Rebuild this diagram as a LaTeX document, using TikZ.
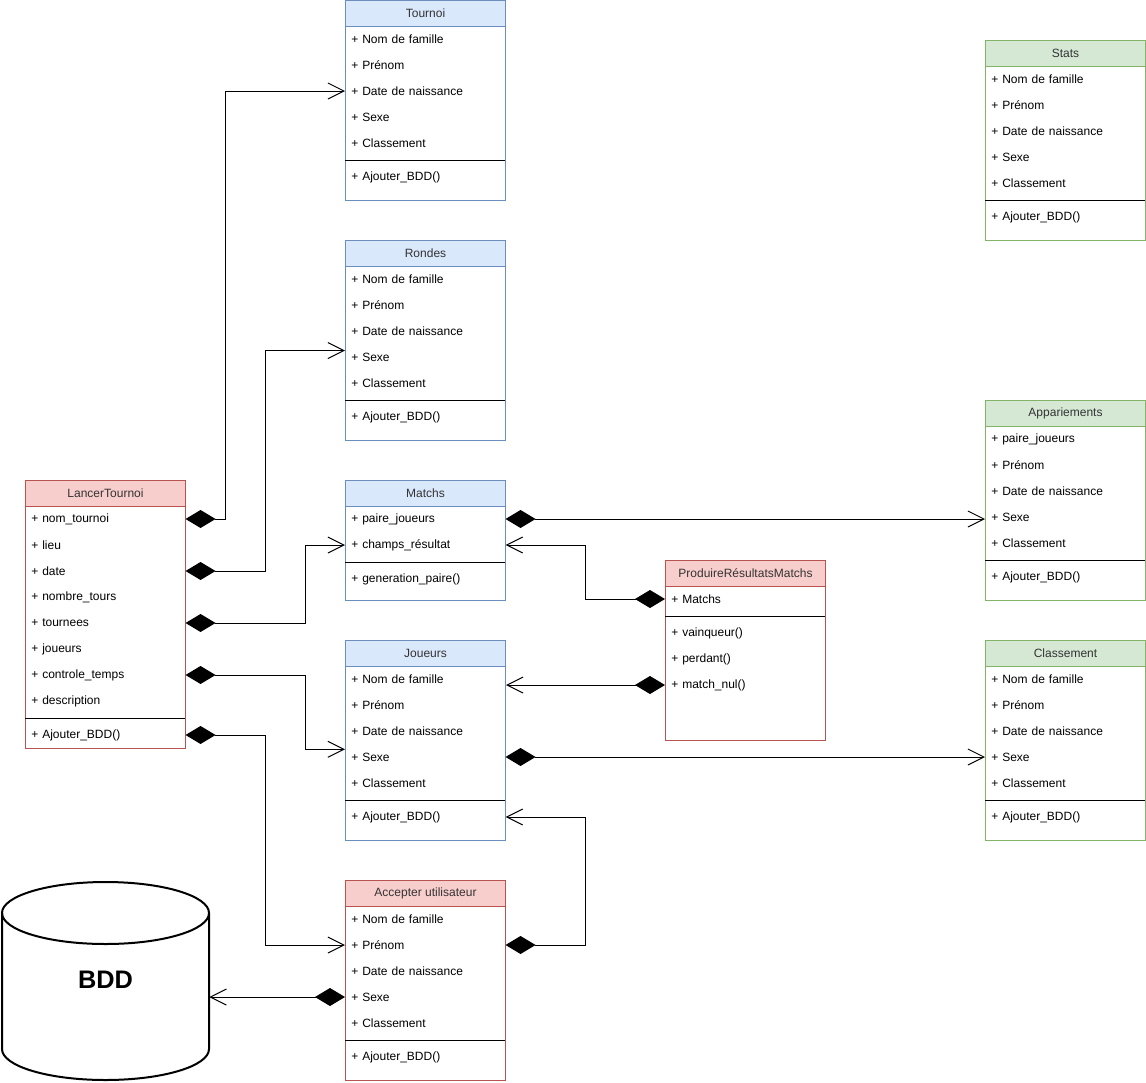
\documentclass[tikz,border=0pt]{standalone}
\usepackage{fontspec}
\setmainfont{Liberation Sans}
\usetikzlibrary{arrows.meta}

\definecolor{bluefill}{HTML}{DAE8FC}
\definecolor{bluedraw}{HTML}{6C8EBF}
\definecolor{redfill}{HTML}{F8CECC}
\definecolor{reddraw}{HTML}{B85450}
\definecolor{greenfill}{HTML}{D5E8D4}
\definecolor{greendraw}{HTML}{82B366}
\definecolor{headtext}{HTML}{333333}

\tikzset{
  itemfont/.style={font=\fontsize{9}{11}\selectfont},
  clsbody/.style={draw=#1draw, fill=white, line width=0.75pt,
    minimum width=120pt, inner sep=0pt, anchor=north west},
  clshead/.style={draw=#1draw, fill=#1fill, line width=0.75pt,
    minimum width=120pt, minimum height=19.5pt, inner sep=0pt,
    anchor=north west, text=headtext, itemfont},
  clsrow/.style={anchor=west, text width=111pt, inner xsep=4.5pt,
    inner ysep=0pt, minimum height=19.5pt, align=left, itemfont},
  sepline/.style={line width=0.75pt, black},
  assoc/.style={line width=0.75pt,
    {Diamond[length=22.5pt,width=13.5pt]}-{Straight Barb[length=12pt,width=12pt]}},
  cyl/.style={line width=1.5pt},
}

% #1 name, #2 left, #3 top, #4 height, #5 colour family, #6 title,
% #7 number of attributes, #8 attributes, #9 methods
\newcommand{\umlclass}[9]{%
  \node[clsbody=#5, minimum height=#4*0.75pt] (#1) at (#2,#3) {};
  \node[clshead=#5] (#1-title) at (#2,#3) {#6};
  \foreach \itm [count=\rowi] in {#8}
    \node[clsrow] (#1-\rowi) at ({#2},{#3+26*\rowi+13}) {\itm};
  \draw[sepline] ({#2},{#3+26+26*#7+4}) -- ++(160,0);
  \foreach \itm [count=\rowi] in {#9}
    \node[clsrow] (#1-m\rowi) at ({#2},{#3+26*#7+26*\rowi+21}) {\itm};
}

\begin{document}
\begin{tikzpicture}[x=0.75pt,y=-0.75pt]
\useasboundingbox (0,0) rectangle (1146,1082);

% classes
\umlclass{tournoi}{345}{0}{200}{blue}{Tournoi}{5}
  {+ Nom de famille, + Prénom, + Date de naissance, + Sexe, + Classement}
  {+ Ajouter\_BDD()}
\umlclass{rondes}{345}{240}{200}{blue}{Rondes}{5}
  {+ Nom de famille, + Prénom, + Date de naissance, + Sexe, + Classement}
  {+ Ajouter\_BDD()}
\umlclass{matchs}{345}{480}{120}{blue}{Matchs}{2}
  {+ paire\_joueurs, + champs\_résultat}
  {+ generation\_paire()}
\umlclass{joueurs}{345}{640}{200}{blue}{Joueurs}{5}
  {+ Nom de famille, + Prénom, + Date de naissance, + Sexe, + Classement}
  {+ Ajouter\_BDD()}
\umlclass{accepter}{345}{880}{200}{red}{Accepter utilisateur}{5}
  {+ Nom de famille, + Prénom, + Date de naissance, + Sexe, + Classement}
  {+ Ajouter\_BDD()}
\umlclass{lancer}{25}{480}{268}{red}{LancerTournoi}{8}
  {+ nom\_tournoi, + lieu, + date, + nombre\_tours, + tournees, + joueurs,
   + controle\_temps, + description}
  {+ Ajouter\_BDD()}
\umlclass{prod}{665}{560}{180}{red}{ProduireRésultatsMatchs}{1}
  {+ Matchs}
  {+ vainqueur(), + perdant(), + match\_nul()}
\umlclass{stats}{985}{40}{200}{green}{Stats}{5}
  {+ Nom de famille, + Prénom, + Date de naissance, + Sexe, + Classement}
  {+ Ajouter\_BDD()}
\umlclass{appar}{985}{400}{200}{green}{Appariements}{5}
  {+ paire\_joueurs, + Prénom, + Date de naissance, + Sexe, + Classement}
  {+ Ajouter\_BDD()}
\umlclass{classement}{985}{640}{200}{green}{Classement}{5}
  {+ Nom de famille, + Prénom, + Date de naissance, + Sexe, + Classement}
  {+ Ajouter\_BDD()}

% database cylinder
\draw[cyl] (2,913) -- (2,1049)
  arc[start angle=180, end angle=360, x radius=77.625pt, y radius=23.25pt]
  -- (209,913);
\draw[cyl] (105.5,913) ellipse [x radius=77.625pt, y radius=23.25pt];
\node[font=\bfseries\fontsize{19}{22}\selectfont, minimum width=155.25pt,
  minimum height=150pt, inner sep=0pt] (bdd) at (105.5,980) {BDD};

% associations
\draw[assoc] (lancer-1.east) -- ++(40,0) |- (tournoi-3.west);
\draw[assoc] (lancer-3.east) -- ++(80,0) |- ([yshift=4.8pt]rondes-4.west);
\draw[assoc] (lancer-5.east) -- ++(120,0) |- (matchs-2.west);
\draw[assoc] (lancer-7.east) -- ++(120,0) |- ([yshift=5.8pt]joueurs-4.west);
\draw[assoc] (lancer-m1.east) -- ++(80,0) |- (accepter-2.west);
\draw[assoc] (matchs-1.east) -- (matchs-1.east -| appar.west);
\draw[assoc] (prod-1.west) -- ++(-80,0) |- (matchs-2.east);
\draw[assoc] (prod-m3.west) -- (prod-m3.west -| joueurs.east);
\draw[assoc] (joueurs-4.east) -- (classement-4.west);
\draw[assoc] (accepter-2.east) -- ++(80,0) |- (joueurs-m1.east);
\draw[assoc] (accepter-4.west) -- (accepter-4.west -| bdd.east);
\end{tikzpicture}
\end{document}
